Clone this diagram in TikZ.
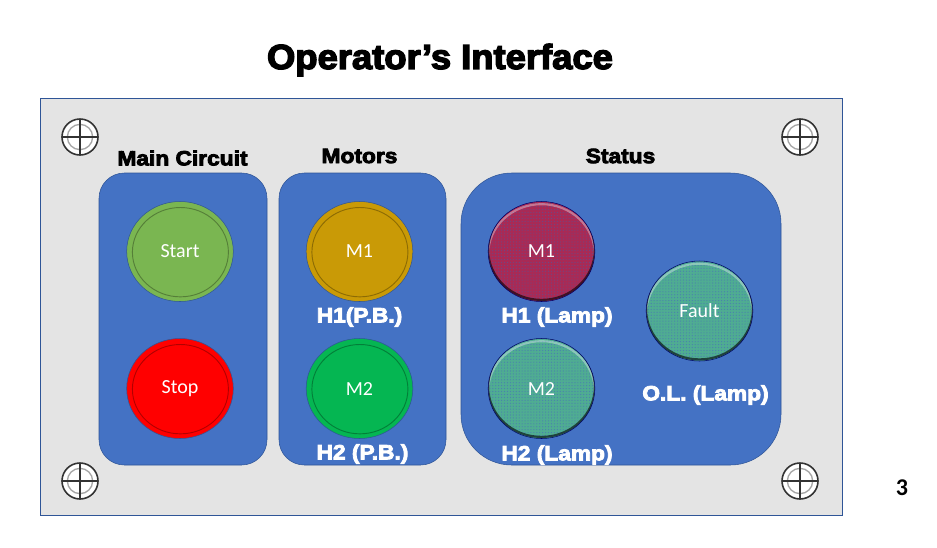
\documentclass[tikz,border=0pt]{standalone}
\usepackage{fontspec}
\usetikzlibrary{shapes.geometric, patterns.meta}
\setmainfont{Carlito}
\newfontfamily\headfont[UprightFont=* Bold, UprightFeatures={FakeBold=4, FakeStretch=1.05}]{Liberation Sans}
\newfontfamily\labelfont[UprightFont=* Bold, UprightFeatures={FakeBold=4, FakeStretch=1.1}]{Liberation Sans}
\definecolor{plate}{HTML}{E4E4E4}
\definecolor{edgeblue}{HTML}{2F5597}
\definecolor{panelblue}{HTML}{4472C4}
\definecolor{startgreen}{HTML}{7AB651}
\definecolor{amber}{HTML}{C99A06}
\definecolor{brightgreen}{HTML}{05B652}
\definecolor{lampred}{HTML}{A92A55}
\definecolor{lampgreen}{HTML}{4FAC92}
\definecolor{lampblue}{HTML}{4A7FB0}
\definecolor{lampbluered}{HTML}{6A4A88}
\tikzset{
    panel/.style={draw=edgeblue, fill=panelblue, minimum height=219pt, inner sep=0pt},
    heading/.style={font=\headfont\fontsize{26}{26}\selectfont, inner sep=0pt},
    title/.style={font=\labelfont\fontsize{15.5}{15.5}\selectfont, inner sep=0pt},
    caption/.style={title, text=white},
    button/.style={ellipse, draw=edgeblue, fill=#1, text=white, minimum width=80pt, minimum height=75pt,
        inner sep=0pt, font=\fontsize{15}{18}\selectfont,
        path picture={\draw[black, opacity=.3, line width=.7pt] ([xshift=.3pt,yshift=-.5pt]path picture bounding box.center)
            ellipse (36pt and 33.5pt);}},
    lamp/.style 2 args={ellipse, draw=black!60!blue, preaction={fill=#1},
        pattern={Dots[distance=2.2pt, radius=.45pt]}, pattern color=#2,
        text=white, minimum width=80pt, minimum height=75pt, inner sep=0pt, font=\fontsize{15}{18}\selectfont,
        path picture={
            \draw[white, opacity=.35, line width=1.6pt] ([yshift=-2pt]path picture bounding box.center) ellipse (40pt and 37.5pt);
            \draw[black, opacity=.6, line width=1.6pt] ([yshift=1.2pt]path picture bounding box.center) ellipse (40pt and 37.5pt);}},
    screw/.style={circle, draw=black!80, line width=1.2pt, fill=white, minimum size=27pt, inner sep=0pt,
        path picture={\draw[black!35, line width=1pt] (path picture bounding box.center) circle (9.5pt);
            \draw[line width=2.2pt] (path picture bounding box.north) -- (path picture bounding box.south);
            \draw[line width=2.2pt] (path picture bounding box.west) -- (path picture bounding box.east);}},
}
\begin{document}
\begin{tikzpicture}[x=.75pt, y=-.75pt]
    \useasboundingbox (0,0) rectangle (937,547);
    \node[heading] (headline) at (440,60) {Operator’s Interface};
    \node[rectangle, draw=edgeblue, fill=plate, minimum width=601.5pt, minimum height=312.75pt, inner sep=0pt] (plate) at (441,306.5) {};
    % screws
    \foreach \sname/\sx/\sy in {tl/80/137, tr/800/137, bl/80/481, br/800/481}
        \node[screw] (screw\sname) at (\sx,\sy) {};
    % panels
    \node[panel, rectangle, minimum width=126pt, rounded corners=19pt] (mainpanel) at (183,319) {};
    \node[panel, rectangle, minimum width=125.25pt, rounded corners=19pt] (motorpanel) at (362.5,319) {};
    \node[panel, rectangle, minimum width=240pt, rounded corners=38pt] (statuspanel) at (621,319) {};
    \node[title] (maintitle) at (182.5,158) {Main Circuit};
    \node[title] (motortitle) at (359.5,156) {Motors};
    \node[title] (statustitle) at (620.5,156) {Status};
    % push buttons
    \node[button=startgreen] (start) at (180,251.5) {Start};
    \node[button=red] (stop) at (180,388.5) {Stop};
    \node[button=amber] (mone) at (359.5,251.5) {M1};
    \node[button=brightgreen] (mtwo) at (359.5,388.5) {M2};
    % lamps
    \node[lamp={lampred}{lampbluered}] (lampone) at (541.5,251.5) {M1};
    \node[lamp={lampgreen}{lampblue}] (lamptwo) at (541.5,388.5) {M2};
    \node[lamp={lampgreen}{lampblue}] (fault) at (699.5,311) {Fault};
    \node[caption] (hone) at (359.5,317) {H1(P.B.)};
    \node[caption] (htwo) at (362.5,454) {H2 (P.B.)};
    \node[caption] (hlone) at (557,317) {H1 (Lamp)};
    \node[caption] (hltwo) at (557,455) {H2 (Lamp)};
    \node[caption] (ol) at (705.5,395) {O.L. (Lamp)};
    \node[font=\bfseries\fontsize{18}{20}\selectfont, inner sep=0pt] (pagenum) at (902,488) {3};
\end{tikzpicture}
\end{document}
